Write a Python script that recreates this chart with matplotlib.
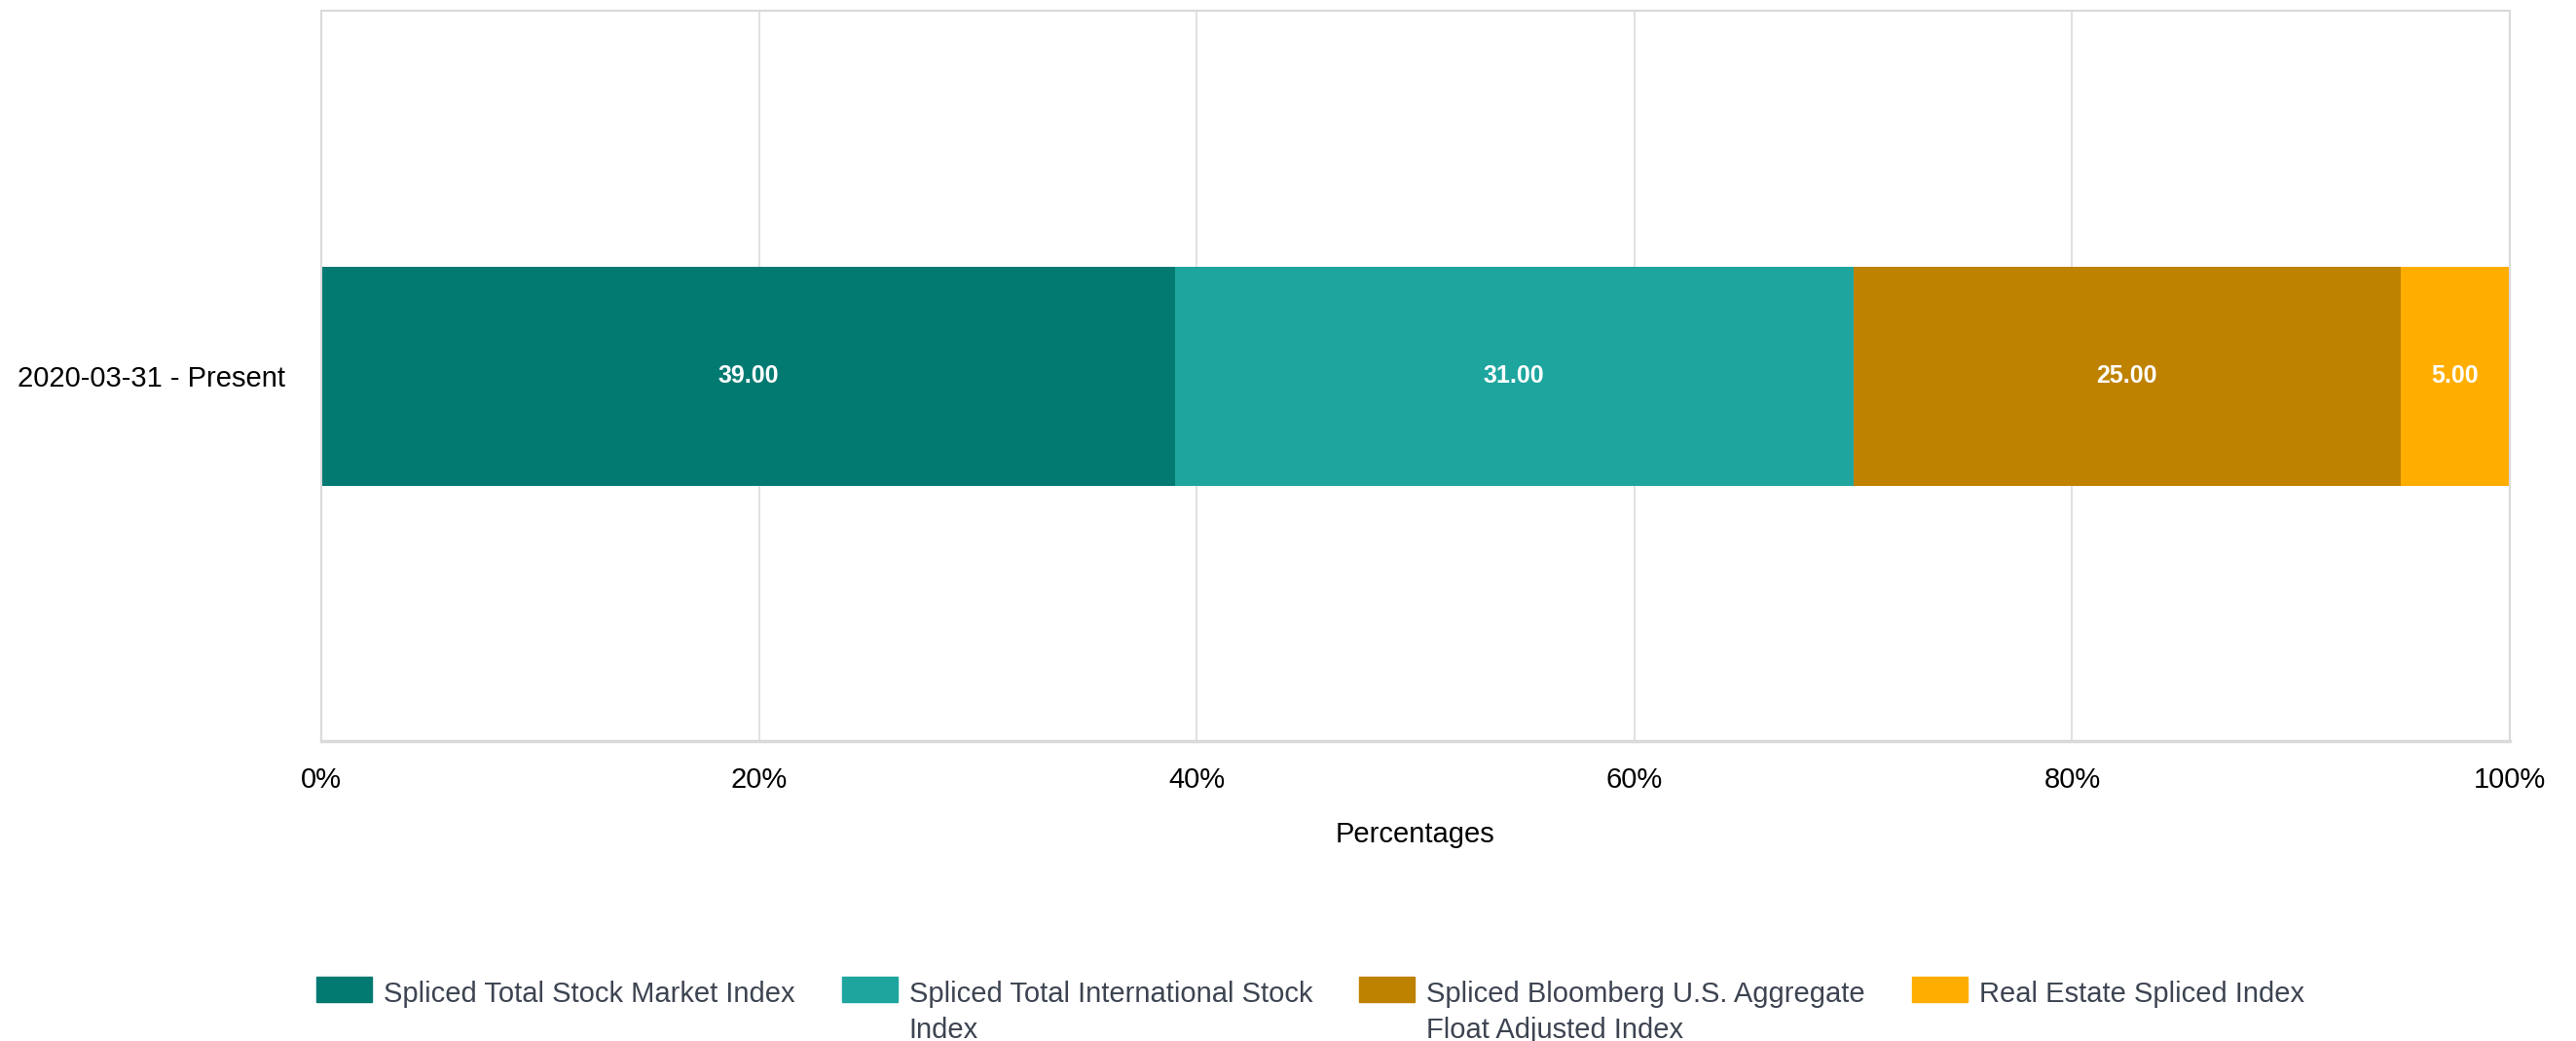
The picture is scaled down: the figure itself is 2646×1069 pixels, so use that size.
import numpy as np
import matplotlib.pyplot as plt
from matplotlib.patches import Rectangle

plt.rcParams['font.family'] = ['Liberation Sans', 'DejaVu Sans']

periods = ["2020-03-31 - Present"]
series_names = [
    "Spliced Total Stock Market Index",
    "Spliced Total International Stock\nIndex",
    "Spliced Bloomberg U.S. Aggregate\nFloat Adjusted Index",
    "Real Estate Spliced Index",
]
series_values = [
    [39.00],
    [31.00],
    [25.00],
    [5.00],
]
series_colors = ["#027A72", "#1DA59E", "#BF8200", "#FFAE00"]
x_ticks = [0, 20, 40, 60, 80, 100]
x_tick_labels = ["0%", "20%", "40%", "60%", "80%", "100%"]

W, H = 2646, 1069
fig = plt.figure(figsize=(W / 100, H / 100), dpi=100)
ax = fig.add_axes([330 / W, 1 - 761 / H, (2578 - 330) / W, (761 - 11) / H])

grid_c = "#d9d9d9"
y = np.arange(len(periods))
left = np.zeros(len(periods))
for name, vals, col in zip(series_names, series_values, series_colors):
    vals = np.array(vals)
    bars = ax.barh(y, vals, left=left, height=0.3, color=col, label=name, zorder=2)
    for b, v in zip(bars, vals):
        ax.text(b.get_x() + b.get_width() / 2, b.get_y() + b.get_height() / 2,
                f"{v:.2f}", ha='center', va='center', color='white',
                fontsize=18, fontweight='bold', zorder=3)
    left = left + vals

ax.set_xlim(0, 100)
ax.set_ylim(-0.5, 0.5)
ax.set_xticks(x_ticks)
ax.set_xticklabels(x_tick_labels)
ax.set_yticks(y)
ax.set_yticklabels(periods)
ax.tick_params(axis='x', length=0, pad=19, labelsize=21)
ax.tick_params(axis='y', length=0, pad=27, labelsize=21)
ax.xaxis.grid(True, color=grid_c, linewidth=1.1, zorder=0)
ax.set_axisbelow(True)
for s in ax.spines.values():
    s.set_color(grid_c)
    s.set_linewidth(1.5)
ax.spines['bottom'].set_linewidth(2.5)
ax.set_xlabel("Percentages", fontsize=21, labelpad=20)

# legend drawn by hand so the swatch lines up with the first text line
fig.canvas.draw()
renderer = fig.canvas.get_renderer()
x0 = 325
for name, col in zip(series_names, series_colors):
    fig.add_artist(Rectangle((x0 / W, 1 - 1029 / H), 57 / W, 26 / H,
                             transform=fig.transFigure, color=col))
    right = x0
    for i, line in enumerate(name.split("\n")):
        t = fig.text((x0 + 69) / W, 1 - (1029 + 37 * i) / H, line, fontsize=21,
                     color="#3D4451", ha='left', va='baseline')
        right = max(right, t.get_window_extent(renderer).x1)
    x0 = right + 48

fig.savefig("out.png", dpi=100)
